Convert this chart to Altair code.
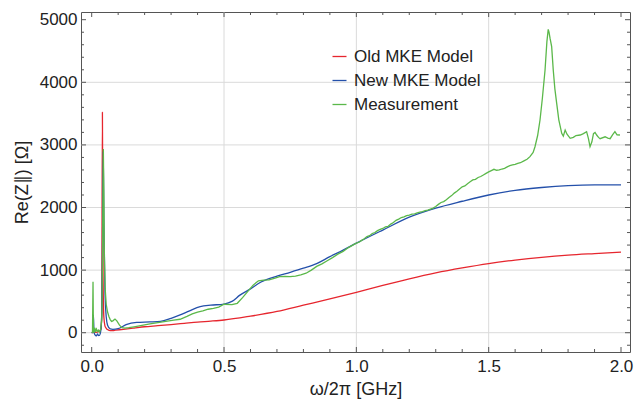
import altair as alt
import pandas as pd

# ---------------- data ----------------
old_x = [0.0, 0.01, 0.02, 0.03, 0.035, 0.038, 0.0405, 0.043, 0.046, 0.05, 0.055,
         0.062, 0.07, 0.08, 0.09, 0.12, 0.16, 0.2, 0.25, 0.3, 0.35, 0.4, 0.45, 0.5,
         0.6, 0.7, 0.8, 0.9, 1.0, 1.1, 1.2, 1.3, 1.4, 1.5, 1.6, 1.7, 1.8, 1.9, 2.0]
old_y = [0, 5, 10, 25, 60, 300, 3520, 900, 250, 110, 70,
         45, 35, 35, 40, 55, 75, 95, 112, 130, 150, 170, 185, 203,
         265, 340, 440, 540, 645, 755, 860, 955, 1035, 1105, 1160, 1205, 1240, 1265, 1288]

new_x = [0.0, 0.004, 0.0065, 0.009, 0.012, 0.018, 0.022, 0.026, 0.03, 0.034, 0.038,
         0.041, 0.0435, 0.046, 0.05, 0.055, 0.06, 0.07, 0.08, 0.1, 0.13, 0.17, 0.22,
         0.26, 0.3, 0.334, 0.37, 0.41, 0.45, 0.5, 0.53, 0.56, 0.6, 0.64, 0.7, 0.75,
         0.8, 0.85, 0.9, 0.95, 1.0, 1.1, 1.2, 1.3, 1.4, 1.5, 1.6, 1.7, 1.8, 1.9, 2.0]
new_y = [0, 0, 280, 0, -30, -50, -20, -45, -40, 20, 300,
         1500, 2900, 1800, 700, 250, 120, 60, 55, 65, 130, 165, 172,
         180, 230, 285, 350, 415, 440, 458, 500, 600, 700, 810, 905, 965,
         1030, 1105, 1215, 1320, 1430, 1640, 1845, 1990, 2100, 2200, 2275, 2320, 2350, 2362, 2360]

meas_x = [0.0, 0.003, 0.005, 0.0065, 0.009, 0.012, 0.014, 0.018, 0.022, 0.026, 0.03,
          0.034, 0.038, 0.041, 0.044, 0.046, 0.048, 0.051, 0.055, 0.06, 0.065, 0.07,
          0.075, 0.08, 0.088, 0.095, 0.105, 0.115, 0.125, 0.14, 0.16, 0.18,
          0.2, 0.22, 0.25, 0.28, 0.31, 0.334, 0.36, 0.38, 0.4, 0.42, 0.44, 0.46, 0.48,
          0.5, 0.53, 0.55, 0.57, 0.59, 0.61, 0.63, 0.65, 0.67, 0.69, 0.71, 0.73, 0.75,
          0.77, 0.79, 0.81, 0.83, 0.85, 0.87, 0.89, 0.91, 0.93, 0.95, 0.97, 1.0,
          1.01, 1.02, 1.03, 1.04, 1.05, 1.06, 1.07, 1.08, 1.09, 1.10, 1.11, 1.12, 1.13,
          1.14, 1.15, 1.16, 1.17, 1.18, 1.19, 1.20, 1.21, 1.22, 1.23, 1.24, 1.25, 1.26,
          1.27, 1.28, 1.29, 1.30, 1.31, 1.32, 1.33, 1.34, 1.35, 1.36, 1.37, 1.38, 1.39,
          1.40, 1.41, 1.42, 1.43, 1.44, 1.45, 1.46, 1.47, 1.48, 1.49, 1.50, 1.51, 1.52,
          1.53, 1.54, 1.55, 1.56, 1.57, 1.58, 1.59, 1.60, 1.61, 1.62, 1.635, 1.645,
          1.656, 1.668, 1.675, 1.685, 1.694, 1.703, 1.713, 1.72, 1.725, 1.728, 1.732,
          1.738, 1.744, 1.75, 1.757, 1.765, 1.776, 1.782, 1.789, 1.796, 1.808, 1.82,
          1.83, 1.846, 1.858, 1.87, 1.877, 1.883, 1.89, 1.896, 1.902, 1.908, 1.915,
          1.921, 1.94, 1.95, 1.959, 1.968, 1.977, 1.985, 1.996]
meas_y = [0, 10, 815, 30, 0, 80, 10, 60, 20, 40, 10,
          60, 200, 1200, 2935, 2200, 1200, 700, 450, 330, 260, 210,
          180, 190, 218, 190, 120, 80, 72, 80, 95, 110,
          125, 140, 160, 180, 200, 215, 260, 300, 330, 350, 375, 390, 410,
          455, 450, 470, 560, 660, 760, 830, 840, 845, 870, 895, 900, 895,
          905, 925, 950, 1000, 1060, 1100, 1150, 1200, 1255, 1300, 1360, 1430,
          1445, 1475, 1500, 1535, 1550, 1585, 1600, 1630, 1650, 1665, 1690, 1700, 1735,
          1760, 1795, 1815, 1840, 1850, 1870, 1880, 1895, 1900, 1915, 1925, 1935, 1950,
          1960, 1975, 1990, 2015, 2050, 2080, 2095, 2125, 2160, 2190, 2230, 2260, 2295,
          2330, 2345, 2380, 2410, 2440, 2450, 2480, 2495, 2520, 2545, 2570, 2590, 2610,
          2595, 2600, 2615, 2625, 2650, 2670, 2680, 2690, 2705, 2715, 2750, 2770,
          2812, 2880, 2971, 3150, 3398, 3750, 4196, 4650, 4845, 4800, 4700,
          4569, 4196, 3900, 3664, 3400, 3185, 3140, 3238, 3170, 3105, 3120,
          3150, 3158, 3180, 3211, 3100, 2971, 3050, 3180, 3200, 3158, 3120,
          3100, 3130, 3110, 3100, 3160, 3211, 3160, 3158]

series_names = ["Old MKE Model", "New MKE Model", "Measurement"]
series_colors = ["#e6262e", "#2450aa", "#5bb84a"]

x_major = [0.0, 0.5, 1.0, 1.5, 2.0]
x_minor = [0.1, 0.2, 0.3, 0.4, 0.6, 0.7, 0.8, 0.9, 1.1, 1.2, 1.3, 1.4, 1.6, 1.7, 1.8, 1.9]
y_major = [0, 1000, 2000, 3000, 4000, 5000]
y_minor = [-200, 200, 400, 600, 800, 1200, 1400, 1600, 1800, 2200, 2400, 2600, 2800,
           3200, 3400, 3600, 3800, 4200, 4400, 4600, 4800]
x_grid = [0.5, 1.0, 1.5]
y_grid = [0, 1000, 2000, 3000, 4000]

W, H = 549, 340
FONT = "Liberation Sans"
TXT = "#222222"

old_df = pd.DataFrame({"x": old_x, "y": old_y, "series": series_names[0]})
new_df = pd.DataFrame({"x": new_x, "y": new_y, "series": series_names[1]})
meas_df = pd.DataFrame({"x": meas_x, "y": meas_y, "series": series_names[2]})

axis_style = dict(grid=False, ticks=False, domain=False, labelFont=FONT, titleFont=FONT,
                  labelFontSize=17, titleFontSize=18, labelColor=TXT, titleColor=TXT,
                  titleFontWeight="normal")


def X(field="x"):
    return alt.X(f"{field}:Q",
                 scale=alt.Scale(domain=[-0.0404, 2.034], nice=False, zero=False),
                 axis=alt.Axis(values=x_major, format=".1f", title="ω/2π [GHz]",
                               labelPadding=6, titlePadding=6, **axis_style))


def Y(field="y"):
    return alt.Y(f"{field}:Q",
                 scale=alt.Scale(domain=[-308, 5123], nice=False, zero=False),
                 axis=alt.Axis(values=y_major, format="d", title="Re(Z∥) [Ω]",
                               labelPadding=4, titlePadding=8, **axis_style))


color = alt.Color("series:N",
                  scale=alt.Scale(domain=series_names, range=series_colors),
                  sort=series_names,
                  legend=alt.Legend(title=None, orient="none", legendX=250, legendY=36,
                                    symbolType="stroke", symbolSize=196,
                                    symbolStrokeWidth=1.3, labelFontSize=17,
                                    labelFont=FONT, labelColor=TXT,
                                    labelOffset=6, rowPadding=6, padding=0))

xg = pd.DataFrame({"x": x_grid})
yg = pd.DataFrame({"y": y_grid})
grid_v = alt.Chart(xg).mark_rule(color="#dadada", strokeWidth=1).encode(x=X())
grid_h = alt.Chart(yg).mark_rule(color="#dadada", strokeWidth=1).encode(y=Y())

lw = 1.3
old_line = alt.Chart(old_df).mark_line(strokeWidth=lw, interpolate="monotone").encode(
    x=X(), y=Y(), color=color)
new_line = alt.Chart(new_df).mark_line(strokeWidth=lw, interpolate="monotone").encode(
    x=X(), y=Y(), color=color)
meas_line = alt.Chart(meas_df).mark_line(strokeWidth=lw).encode(
    x=X(), y=Y(), color=color)

TC = "#555555"
xM = pd.DataFrame({"x": x_major})
xm = pd.DataFrame({"x": x_minor})
yM = pd.DataFrame({"y": y_major})
ym = pd.DataFrame({"y": y_minor})
ML, ml = 5, 3
ticks = [
    alt.Chart(xM).mark_rule(color=TC).encode(x=X(), y=alt.value(H), y2=alt.value(H - ML)),
    alt.Chart(xm).mark_rule(color=TC).encode(x=X(), y=alt.value(H), y2=alt.value(H - ml)),
    alt.Chart(xM).mark_rule(color=TC).encode(x=X(), y=alt.value(0), y2=alt.value(ML)),
    alt.Chart(xm).mark_rule(color=TC).encode(x=X(), y=alt.value(0), y2=alt.value(ml)),
    alt.Chart(yM).mark_rule(color=TC).encode(y=Y(), x=alt.value(0), x2=alt.value(ML)),
    alt.Chart(ym).mark_rule(color=TC).encode(y=Y(), x=alt.value(0), x2=alt.value(ml)),
    alt.Chart(yM).mark_rule(color=TC).encode(y=Y(), x=alt.value(W), x2=alt.value(W - ML)),
    alt.Chart(ym).mark_rule(color=TC).encode(y=Y(), x=alt.value(W), x2=alt.value(W - ml)),
]

chart = alt.layer(grid_v, grid_h, old_line, new_line, meas_line, *ticks).properties(
    width=W, height=H,
    background="white",
    padding={"left": 81, "top": 12, "right": 4, "bottom": 49},
    autosize=alt.AutoSizeParams(type="none"),
).configure_view(
    stroke="#555555", strokeWidth=1
)

chart.save("out.html", embed_options={"renderer": "svg", "actions": False})
